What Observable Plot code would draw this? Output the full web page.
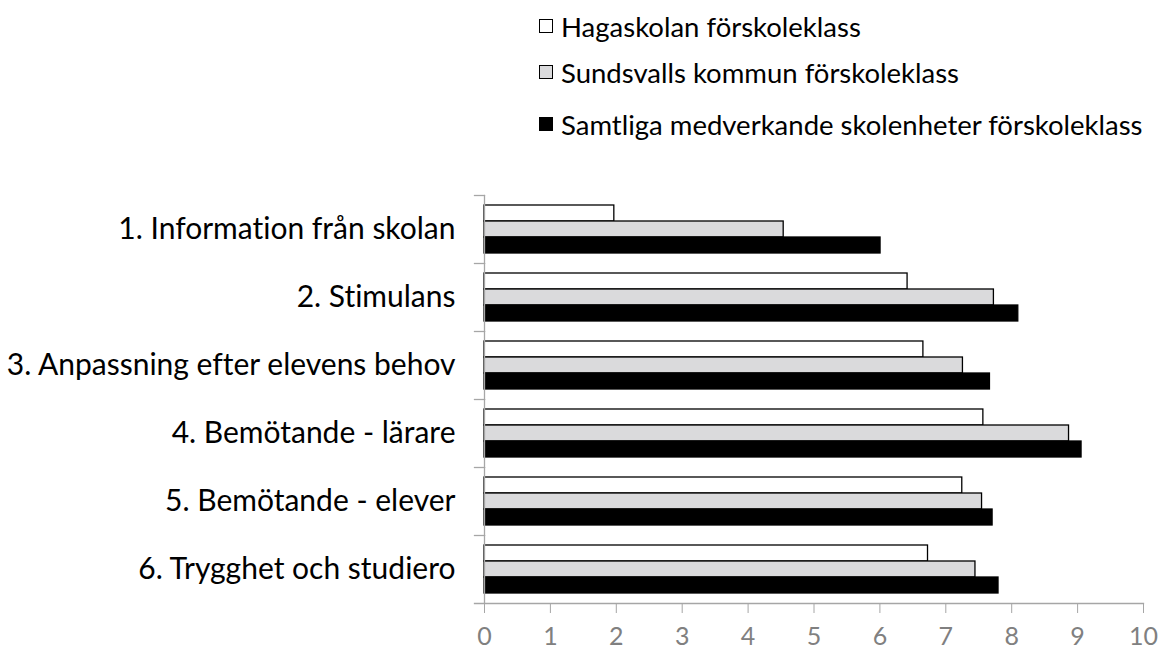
<!DOCTYPE html>
<html>
<head>
<meta charset="utf-8">
<script src="https://cdn.jsdelivr.net/npm/d3@7"></script>
<script src="https://cdn.jsdelivr.net/npm/@observablehq/plot@0.6"></script>
<style>
  html, body { margin: 0; padding: 0; background: #fff; }
  body { width: 1159px; height: 653px; overflow: hidden; font-family: Lato, "Open Sans", sans-serif; font-variant-ligatures: none; }
  #legend { position: relative; height: 170px; width: 1159px; }
  .item { position: absolute; left: 539px; height: 30px; display: flex; align-items: center; font-size: 27.5px; color: #000; white-space: nowrap; }
  .sw { width: 12px; height: 12px; border: 1px solid #000; margin-right: 8px; box-sizing: content-box; flex: none; }
  svg text { font-variant-ligatures: none; }
</style>
</head>
<body>
<div id="legend"></div>
<div id="chart"></div>
<script>
const categories = [
  "1. Information från skolan",
  "2. Stimulans",
  "3. Anpassning efter elevens behov",
  "4. Bemötande - lärare",
  "5. Bemötande - elever",
  "6. Trygghet och studiero"
];
const series = [
  "Hagaskolan förskoleklass",
  "Sundsvalls kommun förskoleklass",
  "Samtliga medverkande skolenheter förskoleklass"
];
const hagaskolan = [1.97, 6.42, 6.66, 7.57, 7.25, 6.73];
const sundsvall  = [4.54, 7.73, 7.26, 8.87, 7.55, 7.45];
const samtliga   = [6.01, 8.10, 7.67, 9.06, 7.71, 7.80];
const xTicks = [0, 1, 2, 3, 4, 5, 6, 7, 8, 9, 10];
const colors = ["#ffffff", "#dadadc", "#000000"];

const values = [hagaskolan, sundsvall, samtliga];
const data = [];
categories.forEach((c, i) => series.forEach((s, j) => data.push({category: c, series: s, value: values[j][i]})));

// Legend
const legend = document.getElementById("legend");
const legendTops = [11, 57, 109];
series.forEach((s, j) => {
  const it = document.createElement("div");
  it.className = "item";
  it.style.top = legendTops[j] + "px";
  const sw = document.createElement("span");
  sw.className = "sw";
  sw.style.background = colors[j];
  it.appendChild(sw);
  it.appendChild(document.createTextNode(s));
  legend.appendChild(it);
});

const axisGray = "#a6a6a6";
const chart = Plot.plot({
  width: 1159,
  height: 483,
  marginTop: 23,
  marginBottom: 48,
  marginLeft: 484,
  marginRight: 16,
  style: {fontFamily: "Lato, 'Open Sans', sans-serif", background: "#fff"},
  x: {domain: [0, 10], axis: null},
  y: {domain: series, paddingInner: 0, paddingOuter: 0.56, axis: null},
  fy: {domain: categories, padding: 0, axis: null},
  color: {domain: series, range: colors},
  marks: [
    Plot.barX(data, {x: "value", y: "series", fy: "category", fill: "series", stroke: "#000", strokeWidth: 1.3}),
    Plot.frame({anchor: "left", stroke: axisGray, strokeWidth: 1.3}),
    Plot.frame({anchor: "top", stroke: axisGray, strokeWidth: 1.3, insetLeft: -10, insetRight: 659}),
    Plot.frame({anchor: "bottom", facetAnchor: "bottom", stroke: axisGray, strokeWidth: 1.3, insetLeft: -10}),
    Plot.axisFy({anchor: "left", tickSize: 0, tickPadding: 29, fontSize: 30, label: null, fill: "#000"}),
    Plot.axisX({anchor: "bottom", ticks: xTicks, tickFormat: d => String(d), tickSize: 10, tickPadding: 14, fontSize: 25, stroke: axisGray, fill: "#808080", label: null})
  ]
});
document.getElementById("chart").appendChild(chart);
</script>
</body>
</html>
